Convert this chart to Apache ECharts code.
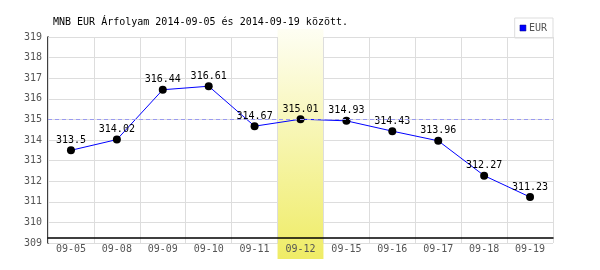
<!DOCTYPE html>
<html>
<head>
<meta charset="utf-8">
<script src="https://cdn.jsdelivr.net/npm/echarts@6/dist/echarts.min.js"></script>
<style>
html,body{margin:0;padding:0;background:#fff;}
#chart{width:600px;height:270px;}
</style>
</head>
<body>
<div id="chart"></div>
<script>
const titleText = 'MNB EUR Árfolyam 2014-09-05 és 2014-09-19 között.';
const seriesName = 'EUR';
const categories = ['09-05','09-08','09-09','09-10','09-11','09-12','09-15','09-16','09-17','09-18','09-19'];
const eurValues = [313.5, 314.02, 316.44, 316.61, 314.67, 315.01, 314.93, 314.43, 313.96, 312.27, 311.23];
const highlightCategory = '09-12';
const referenceValue = 315;
const yMin = 309, yMax = 319, yStep = 1;

const FONT = 'DejaVu Sans Mono';
const chart = echarts.init(document.getElementById('chart'), null, {renderer: 'canvas'});

const bandGradient = new echarts.graphic.LinearGradient(0, 0, 0, 1, [
  {offset: 0, color: '#fefef3'},
  {offset: 1, color: '#efec66'}
]);

chart.setOption({
  animation: false,
  title: {
    text: titleText,
    left: 48, top: 12,
    padding: 5,
    textStyle: {fontFamily: FONT, fontSize: 10, fontWeight: 'normal', color: '#000'}
  },
  legend: {
    data: [{name: seriesName, icon: 'rect', itemStyle: {color: '#0000ff', borderColor: '#000080', borderWidth: 0.5}}],
    right: 47, top: 18,
    padding: [5, 6, 5, 5],
    itemWidth: 6, itemHeight: 6, itemGap: 3,
    borderColor: '#dddddd', borderWidth: 1,
    textStyle: {fontFamily: FONT, fontSize: 10, color: '#555', padding: [0, 0, 0, -2]}
  },
  grid: {left: 48, right: 47, top: 37, bottom: 27},
  xAxis: {
    type: 'category',
    data: categories,
    boundaryGap: true,
    offset: -5,
    z: 3,
    axisLine: {show: true, lineStyle: {color: '#000', width: 1.5}},
    axisTick: {show: false},
    axisLabel: {fontFamily: FONT, fontSize: 10, color: '#555', margin: 6},
    splitLine: {show: true, lineStyle: {color: '#dddddd', width: 1}}
  },
  yAxis: {
    type: 'value',
    min: yMin, max: yMax, interval: yStep,
    z: 0,
    axisLine: {show: true, lineStyle: {color: '#000', width: 1.5}},
    axisTick: {show: false},
    axisLabel: {fontFamily: FONT, fontSize: 10, color: '#555', margin: 6},
    splitLine: {show: true, lineStyle: {color: '#dddddd', width: 1}}
  },
  series: [
    {
      type: 'custom',
      z: 1,
      silent: true,
      clip: false,
      data: [[highlightCategory, referenceValue]],
      renderItem: function (params, api) {
        const pt = api.coord([api.value(0), api.value(1)]);
        const w = api.size([1, 0])[0];
        const cs = params.coordSys;
        return {
          type: 'rect',
          shape: {x: pt[0] - w / 2, y: cs.y - 8, width: w, height: cs.height + 24},
          style: {fill: bandGradient}
        };
      }
    },
    {
      name: seriesName,
      type: 'line',
      z: 4,
      data: eurValues,
      symbol: 'circle',
      symbolSize: 8,
      itemStyle: {color: '#000'},
      lineStyle: {color: '#0000ff', width: 1},
      label: {
        show: true, position: 'top', distance: 1,
        fontFamily: FONT, fontSize: 10, color: '#000'
      },
      markLine: {
        silent: true,
        symbol: 'none',
        label: {show: false},
        lineStyle: {color: '#9a9af0', type: [4, 3], width: 1},
        data: [{yAxis: referenceValue}]
      }
    }
  ]
});
</script>
</body>
</html>
